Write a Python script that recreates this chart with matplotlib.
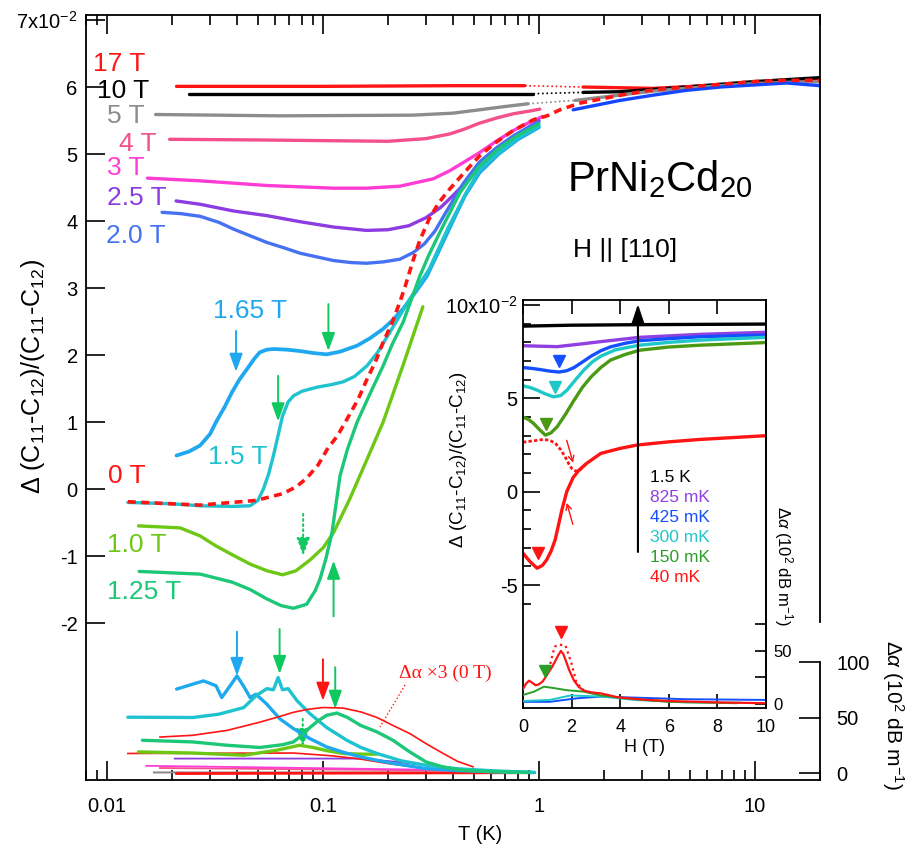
import matplotlib
matplotlib.use('Agg')
import matplotlib.pyplot as plt
from matplotlib.ticker import LogLocator, NullFormatter, FuncFormatter

plt.rcParams['font.family'] = ['Liberation Sans', 'DejaVu Sans']
plt.rcParams['mathtext.fontset'] = 'custom'
plt.rcParams['mathtext.rm'] = 'Liberation Sans'
plt.rcParams['mathtext.it'] = 'Liberation Sans:italic'
plt.rcParams['mathtext.bf'] = 'Liberation Sans:bold'
plt.rcParams['mathtext.sf'] = 'Liberation Sans'

# ---------------- main panel data: T (K), value (x1e-2) ----------------
T_17_lo = [0.021, 0.1, 0.4, 0.86]
y_17_lo = [6.01, 6.01, 6.02, 6.02]
T_17_hi = [1.6, 3.4, 6.9, 14, 20]
y_17_hi = [6.0, 5.98, 6.03, 6.1, 6.12]

T_10_lo = [0.024, 0.1, 0.4, 0.94]
y_10_lo = [5.9, 5.9, 5.9, 5.9]
T_10_hi = [1.6, 2.37, 4.8, 9.8, 20]
y_10_hi = [5.92, 5.93, 6.0, 6.08, 6.14]

T_5_lo = [0.0168, 0.063, 0.26, 0.4, 0.53, 0.7, 0.89]
y_5_lo = [5.59, 5.57, 5.58, 5.61, 5.66, 5.71, 5.75]
T_5_hi = [1.47, 2.37, 3.4, 4.8, 6.9, 9.8, 14, 20]
y_5_hi = [5.80, 5.88, 5.94, 5.98, 6.02, 6.05, 6.07, 6.08]

T_4 = [0.0195, 0.05, 0.1, 0.2, 0.3, 0.387, 0.45, 0.53, 0.64, 0.76, 0.9, 1.01]
y_4 = [5.22, 5.21, 5.2, 5.19, 5.23, 5.3, 5.37, 5.46, 5.54, 5.6, 5.64, 5.67]

T_3 = [0.0154, 0.027, 0.0551, 0.112, 0.159, 0.227, 0.324, 0.386, 0.45, 0.53, 0.64, 0.76, 0.9, 1.04]
y_3 = [4.64, 4.60, 4.53, 4.49, 4.49, 4.52, 4.63, 4.75, 4.88, 5.02, 5.2, 5.35, 5.47, 5.56]

T_25 = [0.0209, 0.027, 0.0385, 0.0551, 0.0783, 0.112, 0.159, 0.2, 0.25, 0.3, 0.35, 0.4, 0.45,
        0.53, 0.64, 0.76, 0.88, 1.0]
y_25 = [4.30, 4.25, 4.15, 4.08, 3.99, 3.91, 3.86, 3.87, 3.93, 4.05, 4.2, 4.38, 4.55,
        4.8, 5.05, 5.22, 5.38, 5.5]

T_20 = [0.018, 0.022, 0.027, 0.033, 0.0385, 0.046, 0.055, 0.066, 0.0783, 0.095, 0.112, 0.135,
        0.159, 0.19, 0.227, 0.262, 0.295, 0.33, 0.374, 0.446, 0.53, 0.64, 0.76, 0.88, 1.0]
y_20 = [4.13, 4.11, 4.07, 3.98, 3.88, 3.78, 3.68, 3.6, 3.52, 3.46, 3.41, 3.38,
        3.37, 3.39, 3.43, 3.53, 3.66, 3.85, 4.15, 4.56, 4.88, 5.1, 5.27, 5.39, 5.48]

T_hiB = [1.44, 2.37, 3.4, 4.8, 6.9, 9.8, 14, 20]
y_hiB = [5.66, 5.80, 5.88, 5.95, 6.0, 6.03, 6.06, 6.02]

T_165 = [0.021, 0.024, 0.027, 0.03, 0.032, 0.035, 0.038, 0.041, 0.0445, 0.048, 0.051, 0.055, 0.059,
         0.068, 0.078, 0.09, 0.104, 0.12, 0.144, 0.165, 0.19, 0.21, 0.235, 0.27, 0.303, 0.34,
         0.38, 0.42, 0.455, 0.53, 0.65, 0.8, 1.0]
y_165 = [0.5, 0.56, 0.65, 0.82, 1.0, 1.22, 1.45, 1.63, 1.79, 1.94, 2.04, 2.08, 2.09,
         2.08, 2.06, 2.03, 2.01, 2.05, 2.14, 2.25, 2.39, 2.52, 2.69, 2.95, 3.18, 3.52,
         3.85, 4.15, 4.38, 4.72, 5.0, 5.22, 5.4]

T_15 = [0.0125, 0.02, 0.027, 0.038, 0.046, 0.05, 0.053, 0.056, 0.059, 0.062, 0.065, 0.069, 0.073,
        0.08, 0.094, 0.11, 0.124, 0.14, 0.16, 0.18, 0.204, 0.23, 0.26, 0.31, 0.38, 0.46, 0.53,
        0.65, 0.8, 1.0]
y_15 = [-0.2, -0.22, -0.25, -0.26, -0.25, -0.17, 0.0, 0.22, 0.5, 0.8, 1.09, 1.3, 1.39,
        1.46, 1.52, 1.56, 1.6, 1.68, 1.84, 2.05, 2.34, 2.62, 2.9, 3.28, 3.9, 4.42, 4.76,
        5.02, 5.24, 5.42]

T_0 = [0.0125, 0.027, 0.049, 0.065, 0.075, 0.084, 0.095, 0.105, 0.117, 0.129, 0.145, 0.16, 0.175,
       0.19, 0.21, 0.227, 0.24, 0.26, 0.28, 0.31, 0.34, 0.375, 0.45, 0.53, 0.63, 0.76, 0.94,
       1.09, 1.25, 1.55, 2.4, 3.4, 4.8, 6.9, 9.8, 14, 20]
y_0 = [-0.19, -0.24, -0.17, -0.07, 0.03, 0.16, 0.36, 0.6, 0.8, 1.04, 1.33, 1.64, 1.9,
       2.19, 2.5, 2.79, 3.02, 3.39, 3.7, 4.03, 4.25, 4.43, 4.72, 4.97, 5.17, 5.35, 5.51,
       5.57, 5.66, 5.76, 5.88, 5.96, 6.0, 6.04, 6.08, 6.1, 6.1]

T_10T = [0.014, 0.0218, 0.027, 0.032, 0.039, 0.046, 0.055, 0.065, 0.075, 0.087, 0.1, 0.112,
         0.133, 0.153, 0.19, 0.235, 0.29]
y_10T = [-0.55, -0.58, -0.7, -0.85, -1.0, -1.12, -1.22, -1.28, -1.22, -1.06, -0.88, -0.65,
         -0.15, 0.3, 1.0, 1.85, 2.72]

T_125 = [0.0141, 0.027, 0.038, 0.046, 0.055, 0.064, 0.073, 0.084, 0.092, 0.097, 0.103, 0.11,
         0.12, 0.13, 0.144, 0.165, 0.19, 0.21, 0.235, 0.26, 0.281, 0.31, 0.35, 0.43, 0.53,
         0.65, 0.8, 1.0]
y_125 = [-1.23, -1.27, -1.39, -1.5, -1.64, -1.74, -1.78, -1.72, -1.52, -1.34, -1.05, -0.66,
         0.2, 0.6, 1.0, 1.42, 1.84, 2.17, 2.49, 2.88, 3.18, 3.5, 3.85, 4.42, 4.82,
         5.08, 5.28, 5.45]

# ---------------- main panel attenuation data (10^2 dB/m) ----------------
aT_165 = [0.021, 0.028, 0.032, 0.034, 0.037, 0.040, 0.043, 0.046, 0.049, 0.055, 0.063, 0.073,
          0.087, 0.104, 0.125, 0.149, 0.18, 0.211, 0.30, 0.42, 0.61, 0.95]
a_165 = [75.6, 83, 78.6, 68, 78, 87.5, 78, 68, 71, 62, 49, 40, 31, 23.5, 18.5, 14.6, 11.2,
         8.7, 4, 2.2, 1.2, 0.5]
aT_15 = [0.0125, 0.025, 0.033, 0.043, 0.049, 0.055, 0.059, 0.062, 0.065, 0.069, 0.076, 0.087,
         0.104, 0.129, 0.15, 0.178, 0.23, 0.30, 0.42, 0.61, 0.95]
a_15 = [50.3, 50, 53, 59, 69.6, 76, 75, 86, 75, 76, 65, 53.5, 41, 29.5, 23, 17.6, 11, 7,
        3.8, 2, 0.5]
aT_0x3 = [0.0176, 0.025, 0.036, 0.051, 0.062, 0.073, 0.086, 0.1, 0.124, 0.15, 0.178, 0.21,
          0.253, 0.3, 0.36, 0.42, 0.495]
a_0x3 = [32.4, 34, 38.4, 45.8, 50.5, 54.7, 57.5, 59, 58.5, 55, 50, 43, 35.4, 26.5, 17.6,
         10.5, 5.6]
aT_125 = [0.0146, 0.025, 0.036, 0.051, 0.065, 0.073, 0.08, 0.087, 0.095, 0.104, 0.116, 0.13,
          0.149, 0.178, 0.211, 0.25, 0.30, 0.36, 0.43, 0.6, 0.9]
a_125 = [29.5, 28, 25, 23, 25.5, 28, 34, 41, 47, 52, 54, 50, 43, 37, 29.5, 19.5, 10, 5.5,
         2.7, 1.2, 0.5]
aT_10 = [0.014, 0.025, 0.043, 0.061, 0.078, 0.09, 0.105, 0.124, 0.15, 0.178]
a_10 = [19, 18, 16, 20.5, 25, 23, 20, 17.6, 17, 17]
aT_red = [0.0125, 0.073, 0.11, 0.149, 0.2, 0.3, 0.42, 0.6]
a_red = [17.6, 18, 15.5, 12.6, 8.5, 4, 1.8, 0.5]
aT_pur = [0.0206, 0.149, 0.22, 0.3, 0.42, 0.6, 0.9]
a_pur = [13, 13, 10, 7, 4, 2, 0.5]
aT_mag = [0.0152, 0.3, 0.9]
a_mag = [6.5, 3, 0.5]
aT_pink = [0.0176, 0.5, 0.95]
a_pink = [4.5, 2, 0.5]
aT_gray = [0.0165, 0.95]
a_gray = [0.5, 0.3]
aT_17 = [0.021, 0.95]
a_17 = [-0.5, 0.3]

# ---------------- inset data: H (T) ----------------
H_blk = [0, 2, 5, 10]
v_blk = [8.87, 8.92, 8.95, 8.98]
H_pur = [0, 1.4, 2.3, 3.2, 4.8, 7.3, 10]
v_pur = [7.82, 7.77, 7.9, 8.04, 8.27, 8.43, 8.54]
H_blu = [0, 0.4, 0.72, 1.1, 1.48, 1.8, 2.1, 2.45, 2.8, 3.2, 3.6, 4.2, 4.8, 6, 7.3, 8.6, 10]
v_blu = [6.65, 6.6, 6.54, 6.46, 6.41, 6.48, 6.65, 6.95, 7.26, 7.55, 7.76, 7.95, 8.09, 8.2,
         8.3, 8.35, 8.39]
H_cya = [0, 0.3, 0.58, 0.9, 1.26, 1.55, 1.81, 2.1, 2.5, 2.85, 3.2, 3.8, 4.8, 6, 7.3, 10]
v_cya = [5.67, 5.58, 5.44, 5.25, 5.08, 5.15, 5.44, 5.9, 6.51, 6.95, 7.26, 7.6, 7.85, 8.0,
         8.12, 8.27]
H_grn = [0, 0.25, 0.44, 0.7, 0.92, 1.15, 1.4, 1.75, 2.1, 2.45, 2.8, 3.2, 3.6, 4.2, 4.8, 6,
         7.3, 10]
v_grn = [4.0, 3.85, 3.65, 3.3, 3.03, 3.15, 3.47, 4.15, 4.9, 5.6, 6.15, 6.65, 7.05, 7.35,
         7.58, 7.75, 7.85, 7.99]
H_red = [0, 0.29, 0.58, 0.8, 0.97, 1.15, 1.32, 1.45, 1.6, 1.8, 2.06, 2.3, 2.6, 3.2, 4.0,
         4.7, 6, 7.3, 10]
v_red = [-3.3, -3.75, -4.1, -3.95, -3.66, -3.2, -2.59, -1.85, -0.98, 0.0, 0.75, 1.15, 1.5,
         2.05, 2.32, 2.5, 2.67, 2.8, 3.0]
H_redd = [0, 0.4, 0.85, 1.1, 1.33, 1.55, 1.73, 1.9, 2.0, 2.15, 2.3, 2.45, 2.62]
v_redd = [2.65, 2.72, 2.8, 2.75, 2.6, 2.25, 1.88, 1.45, 1.25, 1.12, 1.1, 1.3, 1.52]

Ha_red = [0, 0.12, 0.25, 0.38, 0.52, 0.65, 0.8, 0.95, 1.07, 1.2, 1.34, 1.45, 1.56, 1.66,
          1.76, 1.9, 2.1, 2.3, 2.5, 2.8, 3.2, 3.9, 5, 6, 8, 10]
aa_red = [14, 19, 22, 20, 17.6, 18.5, 21, 26, 30.5, 35, 41, 46, 50, 47, 41, 32, 22, 16,
          12.6, 11, 10, 6.3, 4, 2.8, 1.5, 0.7]
Ha_redd = [0.9, 1.1, 1.3, 1.5, 1.75, 2.0, 2.2, 2.5]
aa_redd = [28, 36, 54, 56, 55, 38, 20, 13]
Ha_grn = [0, 0.45, 0.86, 1.27, 1.8, 2.5, 3.2, 4.6, 6, 8.8]
aa_grn = [8.5, 11.6, 16.3, 15, 13, 11.6, 8, 4.5, 2, 0.7]
Ha_cya = [0, 1.1, 1.95, 3.2, 4.6, 6.7, 9]
aa_cya = [2.8, 3.8, 8, 7, 3.8, 1.5, 1.2]
Ha_blu = [0, 1.1, 2.2, 3.2, 4.6, 6.7, 10]
aa_blu = [2, 2, 5.3, 7, 6, 4.5, 3.8]

# minima markers (inset)
mk_H = [1.48, 1.3, 0.95, 0.63]
mk_v = [6.98, 5.59, 3.62, -3.27]
mka_H = [1.58, 0.9]
mka_v = [68, 31]

field_labels = ['17 T', '10 T', '5 T', '4 T', '3 T', '2.5 T', '2.0 T',
                '1.65 T', '1.5 T', '0 T', '1.0 T', '1.25 T']
temp_labels = ['1.5 K', '825 mK', '425 mK', '300 mK', '150 mK', '40 mK']

# ---------------- colours ----------------
C17, C10, C5, C4, C3 = '#ff1414', '#000000', '#8c8c8c', '#f4508c', '#ff3cd6'
C25, C20, C165, C15 = '#8c3ce0', '#4672f2', '#1ea8f0', '#1ec3cf'
C0, C10T, C125, CHB = '#ff1414', '#6cc814', '#1cc878', '#1446ff'
CARR = '#10c860'
ic = ['#000000', '#9040e0', '#1450ff', '#1ec8c8', '#4a9a14', '#ff1414']
ic_txt = ['#000000', '#9040e0', '#1450ff', '#1ec8c8', '#28a028', '#ff1414']

W, H = 913, 852
fig = plt.figure(figsize=(W / 100, H / 100), dpi=100)


def rect(l, t, r, b):
    return [l / W, 1 - b / H, (r - l) / W, (b - t) / H]


def P(x, y):
    return (x / W, 1 - y / H)


ax = fig.add_axes(rect(86, 15, 820, 780))
ax.set_xscale('log')
ax.set_xlim(0.008, 20.0)
ax.set_ylim(-4.343, 7.075)

LW = 2.4
kw = dict(solid_joinstyle='round', solid_capstyle='round')
ax.plot(T_17_lo, y_17_lo, color=C17, lw=LW, **kw)
ax.plot(T_17_hi, y_17_hi, color=C17, lw=LW, **kw)
ax.plot([T_17_lo[-1], T_17_hi[0]], [y_17_lo[-1], y_17_hi[0]], color=C17, lw=1.2, ls=':')
ax.plot(T_10_lo, y_10_lo, color=C10, lw=LW, **kw)
ax.plot(T_10_hi, y_10_hi, color=C10, lw=LW, **kw)
ax.plot([T_10_lo[-1], T_10_hi[0]], [y_10_lo[-1], y_10_hi[0]], color=C10, lw=1.2, ls=':')
ax.plot(T_5_lo, y_5_lo, color=C5, lw=LW, **kw)
ax.plot(T_5_hi, y_5_hi, color=C5, lw=LW, **kw)
ax.plot([T_5_lo[-1], T_5_hi[0]], [y_5_lo[-1], y_5_hi[0]], color=C5, lw=1.2, ls=':')
ax.plot(T_hiB, y_hiB, color=CHB, lw=LW, **kw)
ax.plot(T_4, y_4, color=C4, lw=LW, **kw)
ax.plot(T_3, y_3, color=C3, lw=LW, **kw)
ax.plot(T_25, y_25, color=C25, lw=LW, **kw)
ax.plot(T_20, y_20, color=C20, lw=LW, **kw)
ax.plot(T_165, y_165, color=C165, lw=LW + 0.3, **kw)
ax.plot(T_15, y_15, color=C15, lw=LW, **kw)
ax.plot(T_10T, y_10T, color=C10T, lw=LW, **kw)
ax.plot(T_125, y_125, color=C125, lw=LW, **kw)
ax.plot(T_0, y_0, color=C0, lw=2.6, ls=(0, (2.2, 1.5)))

ax.set_yticks(range(-2, 8))
ax.set_yticklabels(['-2', '-1', '0', '1', '2', '3', '4', '5', '6', r'7x10$^{\mathregular{-2}}$'])
ax.xaxis.set_major_locator(LogLocator(base=10, numticks=10))
ax.xaxis.set_minor_locator(LogLocator(base=10, subs=range(2, 10), numticks=20))
ax.xaxis.set_minor_formatter(NullFormatter())
ax.xaxis.set_major_formatter(FuncFormatter(
    lambda v, p: {0.01: '0.01', 0.1: '0.1', 1: '1', 10: '10'}.get(round(v, 4), '')))
ax.tick_params(which='both', direction='in', top=True, right=False, width=1.2, labelsize=14.5)
ax.tick_params(which='major', length=14)
ax.tick_params(which='minor', length=7)
ax.tick_params(axis='y', pad=6)
ax.tick_params(axis='x', pad=12)
for s in ax.spines.values():
    s.set_linewidth(1.3)
ax.spines['right'].set_bounds(-1.985, 7.075)

# attenuation on twin axis
ax2 = ax.twinx()
ax2.set_ylim(-6.3, 683)
for s in ['left', 'top', 'bottom']:
    ax2.spines[s].set_visible(False)
ax2.spines['right'].set_linewidth(1.3)
ax2.spines['right'].set_bounds(-6.3, 100)
ax2.set_yticks([0, 50, 100])
ax2.tick_params(axis='y', direction='in', length=15, width=1.2, labelsize=14.5, pad=12)
ax2.plot(aT_gray, a_gray, color=C5, lw=1.5)
ax2.plot(aT_17, a_17, color=C17, lw=2.0)
ax2.plot(aT_pink, a_pink, color=C4, lw=1.3)
ax2.plot(aT_mag, a_mag, color=C3, lw=1.3)
ax2.plot(aT_pur, a_pur, color=C25, lw=1.3)
ax2.plot(aT_red, a_red, color=C17, lw=1.2)
ax2.plot(aT_10, a_10, color=C10T, lw=LW, **kw)
ax2.plot(aT_165, a_165, color=C165, lw=LW, **kw)
ax2.plot(aT_15, a_15, color=C15, lw=LW, **kw)
ax2.plot(aT_125, a_125, color=C125, lw=LW, **kw)
ax2.plot(aT_0x3, a_0x3, color=C0, lw=1.2)

# arrows on main panel: (T, y_tail, y_tip, colour, dotted)
arrows_main = [
    (0.0396, 2.36, 1.75, C165, False),
    (0.106, 2.76, 2.06, CARR, False),
    (0.062, 1.69, 1.01, CARR, False),
    (0.081, -0.37, -1.0, CARR, True),
    (0.112, -1.9, -1.07, CARR, False),
    (0.040, -2.13, -2.79, C165, False),
    (0.063, -2.09, -2.76, CARR, False),
    (0.100, -2.54, -3.16, C17, False),
    (0.114, -2.66, -3.28, CARR, False),
    (0.0806, -3.43, -3.85, CARR, True),
]
for T, y0, y1, c, dotted in arrows_main:
    ax.annotate('', xy=(T, y1), xytext=(T, y0),
                arrowprops=dict(arrowstyle='-|>,head_length=0.55,head_width=0.2', color=c,
                                lw=1.4, ls=':' if dotted else '-', shrinkA=0, shrinkB=0,
                                mutation_scale=20))

# field labels
lab_pos = [(93, 64), (97, 91), (107, 116), (119, 144), (107, 168), (107, 198), (106, 236),
           (213, 311), (208, 457), (108, 476), (107, 545), (107, 592)]
lab_col = [C17, C10, C5, C4, C3, C25, C20, C165, C15, C0, C10T, C125]
for t, (px, py), c in zip(field_labels, lab_pos, lab_col):
    fig.text(*P(px, py), t, color=c, fontsize=19, ha='left', va='center')

fig.text(*P(567, 191), r'PrNi$_{\mathregular{2}}$Cd$_{\mathregular{20}}$', fontsize=30,
         ha='left', va='baseline')
fig.text(*P(573, 257), 'H || [110]', fontsize=19, ha='left', va='baseline')
fig.text(*P(33, 377),
         r'$\Delta$ (C$_{\mathregular{11}}$-C$_{\mathregular{12}}$)/(C$_{\mathregular{11}}$-C$_{\mathregular{12}}$)',
         fontsize=18, rotation=90, ha='center', va='center')
fig.text(*P(480, 835), 'T (K)', fontsize=14.5, ha='center', va='center')
fig.text(*P(893, 715), r'$\Delta\alpha$ (10$^{\mathregular{2}}$ dB m$^{\mathregular{-1}}$)', fontsize=15,
         rotation=270, ha='center', va='center')
fig.text(*P(445, 673), 'Δα ×3 (0 T)', color=C0, fontsize=14, ha='center', va='center',
         family=['Liberation Serif', 'DejaVu Serif'])
fig.add_artist(matplotlib.lines.Line2D([405 / W, 380 / W], [1 - 685 / H, 1 - 727 / H],
                                       color=C0, lw=1.0, ls=':'))

# ---------------- inset ----------------
axi = fig.add_axes(rect(523, 300, 766, 708), zorder=5)
axi.set_facecolor('white')
axi.set_xlim(0, 10)
axi.set_ylim(-11.59, 10.27)
for Hh, vv, c in zip([H_blk, H_pur, H_blu, H_cya, H_grn, H_red],
                     [v_blk, v_pur, v_blu, v_cya, v_grn, v_red], ic):
    axi.plot(Hh, vv, color=c, lw=2.4, **kw)
axi.plot(H_redd, v_redd, color=ic[5], lw=2.0, ls=(0, (1.2, 0.8)))
for h, v, c in zip(mk_H, mk_v, [ic[2], ic[3], ic[4], ic[5]]):
    axi.plot([h], [v], marker='v', ms=8, color=c, ls='none')
axi.annotate('', xy=(4.73, 10.05), xytext=(4.73, -3.23),
             arrowprops=dict(arrowstyle='-|>,head_length=0.6,head_width=0.2', color='black', lw=1.5,
                             shrinkA=0, shrinkB=0, mutation_scale=20))
axi.annotate('', xy=(2.06, 1.55), xytext=(1.8, 2.75),
             arrowprops=dict(arrowstyle='->', color=ic[5], lw=1.0, shrinkA=0, shrinkB=0))
axi.annotate('', xy=(1.8, -0.6), xytext=(2.05, -1.75),
             arrowprops=dict(arrowstyle='->', color=ic[5], lw=1.0, shrinkA=0, shrinkB=0))

axi.set_yticks([-5, 0, 5, 10])
axi.set_yticklabels(['-5', '0', '5', r'10x10$^{\mathregular{-2}}$'])
axi.set_yticks(range(-6, 11), minor=True)
axi.set_xticks([0, 2, 4, 6, 8, 10])
axi.set_xticklabels(['0', '2', '4', '6', '8', '10'])
axi.tick_params(which='both', direction='in', top=True, right=False, width=1.2)
axi.tick_params(axis='y', which='major', length=12, labelsize=14.5, pad=4)
axi.tick_params(axis='y', which='minor', length=6)
axi.tick_params(axis='x', which='major', length=10, labelsize=13, pad=8)
for s in axi.spines.values():
    s.set_linewidth(1.3)
axi.set_xlabel('H (T)', fontsize=13, labelpad=2)

axi2 = axi.twinx()
axi2.set_ylim(-3.8, 381)
for s in ['left', 'top', 'bottom']:
    axi2.spines[s].set_visible(False)
axi2.spines['right'].set_linewidth(1.3)
axi2.set_yticks([0, 25, 50, 75])
axi2.set_yticklabels(['0', '', '50', ''])
axi2.tick_params(axis='y', direction='in', length=8, width=1.2, labelsize=12, pad=5)
axi2.plot(Ha_blu, aa_blu, color=ic[2], lw=1.4, **kw)
axi2.plot(Ha_cya, aa_cya, color=ic[3], lw=1.4, **kw)
axi2.plot(Ha_grn, aa_grn, color='#28a028', lw=1.4, **kw)
axi2.plot(Ha_red, aa_red, color=ic[5], lw=1.6, **kw)
axi2.plot(Ha_redd, aa_redd, color=ic[5], lw=1.6, ls=':')
for h, v, c in zip(mka_H, mka_v, [ic[5], '#28a028']):
    axi2.plot([h], [v], marker='v', ms=8, color=c, ls='none')

fig.text(*P(458, 460),
         r'$\Delta$ (C$_{\mathregular{11}}$-C$_{\mathregular{12}}$)/(C$_{\mathregular{11}}$-C$_{\mathregular{12}}$)',
         fontsize=13.5, rotation=90, ha='center', va='center', zorder=6)
fig.text(*P(783, 566), r'$\Delta\alpha$ (10$^{\mathregular{2}}$ dB m$^{\mathregular{-1}}$)', fontsize=12,
         rotation=270, ha='center', va='center', zorder=6)
for i, (t, c) in enumerate(zip(temp_labels, ic_txt)):
    fig.text(*P(650, 478 + 20 * i), t, color=c, fontsize=12.5, ha='left', va='center', zorder=6)

fig.savefig('out.png', dpi=100)
